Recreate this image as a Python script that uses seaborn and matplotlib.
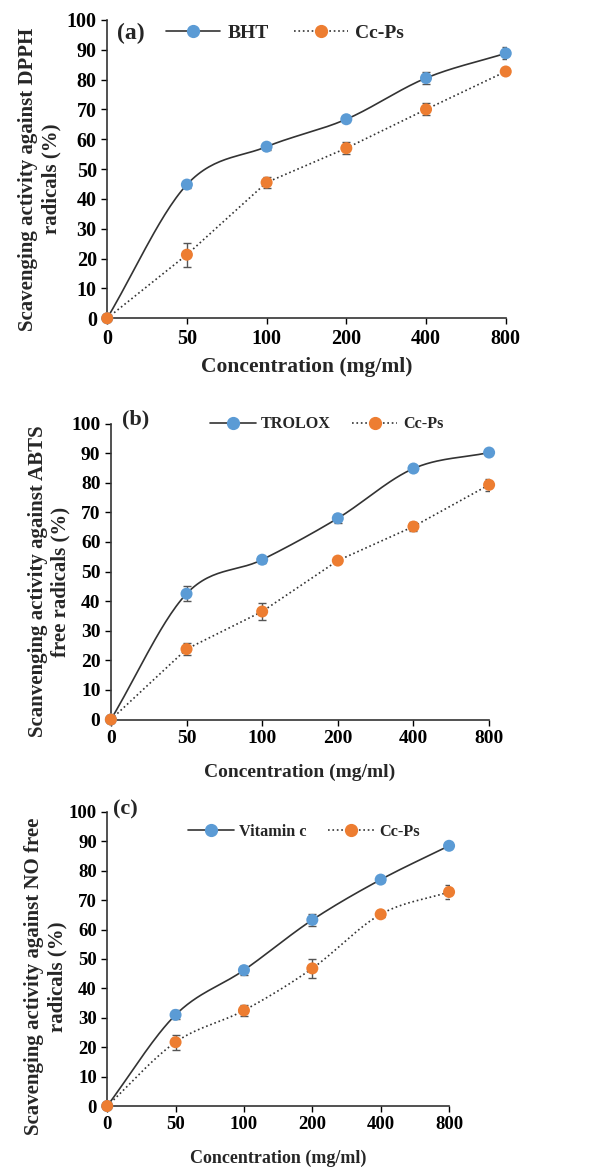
import numpy as np
import pandas as pd
import matplotlib.pyplot as plt
from matplotlib.lines import Line2D
import seaborn as sns

conc = ['0', '50', '100', '200', '400', '800']

# (a) DPPH
bht = [0, 44.8, 57.5, 66.7, 80.5, 88.8]
bht_err = [0, 1.0, 1.0, 1.0, 2.0, 2.0]
dpph_ccps = [0, 21.3, 45.5, 57.0, 70.0, 82.7]
dpph_ccps_err = [0, 4.0, 2.0, 2.0, 2.0, 0.5]

# (b) ABTS
trolox = [0, 42.5, 54.0, 68.0, 84.8, 90.2]
trolox_err = [0, 2.5, 1.0, 1.5, 1.0, 0.5]
abts_ccps = [0, 23.8, 36.5, 53.7, 65.2, 79.3]
abts_ccps_err = [0, 2.0, 3.0, 0.5, 1.5, 2.0]

# (c) NO
vitc = [0, 31.0, 46.2, 63.3, 77.0, 88.5]
vitc_err = [0, 1.5, 1.5, 2.0, 0.8, 0.8]
no_ccps = [0, 21.7, 32.5, 46.8, 65.2, 72.8]
no_ccps_err = [0, 2.5, 1.8, 3.3, 0.8, 2.5]

BLUE = '#5b9bd5'
ORANGE = '#ed7d31'

sns.set_style('ticks')
plt.rcParams['font.family'] = ['Liberation Serif', 'DejaVu Serif']
plt.rcParams['font.weight'] = 'bold'


def smooth(y, n=30):
    # excel-like smoothed line (catmull-rom through the points)
    x = np.arange(len(y), dtype=float)
    y = np.asarray(y, dtype=float)
    px = np.concatenate([[2 * x[0] - x[1]], x, [2 * x[-1] - x[-2]]])
    py = np.concatenate([[2 * y[0] - y[1]], y, [2 * y[-1] - y[-2]]])
    xs, ys = [], []
    t = np.linspace(0, 1, n)
    for i in range(1, len(px) - 2):
        for p, out in ((px, xs), (py, ys)):
            p0, p1, p2, p3 = p[i - 1], p[i], p[i + 1], p[i + 2]
            out.append(0.5 * ((2 * p1) + (-p0 + p2) * t
                              + (2 * p0 - 5 * p1 + 4 * p2 - p3) * t ** 2
                              + (-p0 + 3 * p1 - 3 * p2 + p3) * t ** 3))
    return np.concatenate(xs), np.concatenate(ys)


def panel(ax, std, std_err, std_name, cc, cc_err, tag, ylabel, sz, leg_anchor, tag_xy,
          smooth_cc, ypad, xpad, label_y):
    df = pd.DataFrame({
        'pos': list(range(len(conc))) * 2,
        'value': std + cc,
        'err': std_err + cc_err,
        'sample': [std_name] * len(conc) + ['Cc-Ps'] * len(conc),
    })
    for name, ls in ((std_name, '-'), ('Cc-Ps', ':')):
        d = df[df['sample'] == name]
        if ls == '-' or smooth_cc:
            sx, sy = smooth(d['value'].values)
            ax.plot(sx, sy, color='#333333', lw=1.2, ls=ls, zorder=2)
        else:
            ax.plot(d['pos'], d['value'], color='#333333', lw=1.2, ls=ls, zorder=2)
        ax.errorbar(d['pos'], d['value'], yerr=d['err'], fmt='none', ecolor='#555555',
                    elinewidth=1, capsize=3, zorder=3)
    sns.scatterplot(data=df, x='pos', y='value', hue='sample',
                    palette={std_name: BLUE, 'Cc-Ps': ORANGE}, s=75,
                    edgecolor='none', legend=False, ax=ax, zorder=4, clip_on=False)
    ax.set_xlim(0, 5)
    ax.set_ylim(0, 100)
    ax.set_xticks(range(len(conc)))
    ax.set_xticklabels(conc)
    ax.set_yticks(range(0, 101, 10))
    ax.tick_params(labelsize=sz['tick'], length=4, width=1, colors='black')
    for lab in ax.get_xticklabels() + ax.get_yticklabels():
        lab.set_fontweight('bold')
    sns.despine(ax=ax)
    for s in ('left', 'bottom'):
        ax.spines[s].set_color('#333333')
        ax.spines[s].set_linewidth(1.2)
    ax.set_xlabel('Concentration (mg/ml)', fontsize=sz['xlabel'], fontweight='bold', labelpad=xpad)
    ax.set_ylabel(ylabel, fontsize=sz['ylabel'], fontweight='bold', labelpad=ypad)
    ax.yaxis.label.set_y(label_y)
    ax.text(tag_xy[0], tag_xy[1], tag, transform=ax.transAxes, fontsize=sz['tag'],
            fontweight='bold', va='center', ha='left')
    handles = [
        Line2D([], [], color='#333333', ls='-', lw=1.2, marker='o', markersize=8.5,
               markerfacecolor=BLUE, markeredgecolor=BLUE),
        Line2D([], [], color='#333333', ls=':', lw=1.2, marker='o', markersize=8.5,
               markerfacecolor=ORANGE, markeredgecolor=ORANGE),
    ]
    ax.legend(handles, [std_name, 'Cc-Ps'], loc='center', bbox_to_anchor=leg_anchor,
              ncol=2, frameon=False, handlelength=2.8,
              columnspacing=1.3, handletextpad=0.35,
              prop={'weight': 'bold', 'size': sz['legend']})


fig = plt.figure(figsize=(6.16, 11.7), dpi=100)
ax_a = fig.add_axes([0.174, 0.728, 0.647, 0.255])
ax_b = fig.add_axes([0.180, 0.385, 0.614, 0.253])
ax_c = fig.add_axes([0.174, 0.0547, 0.555, 0.2513])

panel(ax_a, bht, bht_err, 'BHT', dpph_ccps, dpph_ccps_err, '(a)',
      'Scavenging activity against DPPH\nradicals (%)',
      {'tick': 14.5, 'xlabel': 15.5, 'ylabel': 15, 'legend': 14, 'tag': 17},
      (0.446, 0.956), (0.025, 0.956), False, 4, 6, 0.466)
panel(ax_b, trolox, trolox_err, 'TROLOX', abts_ccps, abts_ccps_err, '(b)',
      'Scanvenging activity against ABTS\nfree radicals (%)',
      {'tick': 14, 'xlabel': 14, 'ylabel': 15, 'legend': 11.6, 'tag': 16},
      (0.571, 0.997), (0.03, 1.013), False, 0.5, 12, 0.466)
panel(ax_c, vitc, vitc_err, 'Vitamin c', no_ccps, no_ccps_err, '(c)',
      'Scavenging activity against NO free\nradicals (%)',
      {'tick': 13.5, 'xlabel': 13, 'ylabel': 15, 'legend': 11.7, 'tag': 16},
      (0.576, 0.932), (0.018, 1.007), True, 1, 12, 0.44)

fig.savefig('out.png', dpi=100)
